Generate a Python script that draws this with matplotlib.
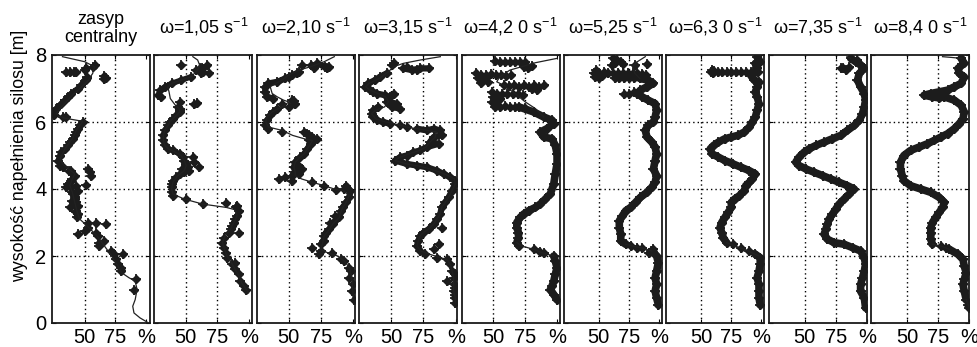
import numpy as np
import matplotlib
matplotlib.use("Agg")
import matplotlib.pyplot as plt

plt.rcParams['font.family'] = ['Liberation Sans', 'DejaVu Sans']
plt.rcParams['mathtext.fontset'] = 'custom'
plt.rcParams['mathtext.rm'] = 'Liberation Sans'
plt.rcParams['mathtext.it'] = 'Liberation Sans:italic'
plt.rcParams['mathtext.bf'] = 'Liberation Sans:bold'

NAN = (float('nan'), float('nan'))

titles = ["zasyp\ncentralny", "ω=1,05 s$^{-1}$", "ω=2,10 s$^{-1}$", "ω=3,15 s$^{-1}$",
          "ω=4,2 0 s$^{-1}$", "ω=5,25 s$^{-1}$", "ω=6,3 0 s$^{-1}$", "ω=7,35 s$^{-1}$",
          "ω=8,4 0 s$^{-1}$"]
y_ticks = [0, 2, 4, 6, 8]
x_ticks = [50, 75, 100]
x_ticklabels = ["50", "75", "%"]
ylabel = "wysokość napełnienia silosu [m]"
xlims = [(23.5, 103), (25.5, 102.5), (25, 101.5), (25.5, 101), (25, 102),
         (21, 102.5), (21, 102.5), (21, 100), (21, 100)]

# ---- panel 1 (h [m], value [%]) ----
L1 = [(7.95,32),(7.8,50),(7.65,58),(7.45,56.5),(7.2,52),(7.0,46),(6.8,40),(6.6,35),(6.4,30),(6.25,27),
      (6.12,33),(6.02,48.5),(5.8,44),(5.5,40),(5.2,34),(4.9,30),(4.75,32),(4.6,37),(4.45,42),(4.3,40),
      (4.1,38),(3.9,40),(3.6,42),(3.3,44),(3.1,46),(2.9,52),(2.6,60),(2.3,66),(2.0,72),(1.7,77),(1.5,80),
      (1.35,86),(1.25,91),(1.0,92.5),(0.7,91),(0.5,89),(0.3,90),(0.15,95),(0.02,101)]
B1 = [(7.25,51),(7.1,47),(7.0,44.5),(6.85,39),(6.75,36.5),(6.65,34),(6.55,31),(6.4,27),(6.3,25),NAN,
      (6.0,48.5),(5.9,46),(5.8,44.5),(5.7,43),(5.6,42),(5.5,40.5),(5.4,38),(5.3,36.5),(5.2,34),(5.1,31),
      (5.0,30),(4.85,28.5),(4.7,30),NAN,(4.3,40),(4.1,38),(3.9,40),(3.7,42),(3.5,44),(3.3,43),(3.15,44)]
D1 = [(7.7,58),(7.65,57),(7.6,51),(7.55,50),(7.5,35),(7.5,38),(7.48,41),(7.5,43),(7.38,66),(7.32,67.5),
      (7.28,66),(7.35,52),(7.3,52),(6.2,25),(6.15,32.5),(6.15,35),(4.65,32.5),(4.55,37),(4.55,39),(4.6,52.7),
      (4.5,54),(4.4,55.4),(4.4,42),(4.25,39),(4.15,36.5),(4.05,35),(4.05,39),(4.1,43),(4.12,51.3),(3.95,44.6),
      (3.85,40.6),(3.75,42),(3.65,40),(3.6,43),(3.5,44.6),(3.45,38),(3.35,43),(3.25,44.6),(3.0,52.7),(3.0,59.4),
      (2.95,67.5),(2.85,52.7),(2.75,50),(2.65,44.6),(2.7,59.4),(2.6,60.8),(2.45,66),(2.4,62),(2.3,62),(2.15,71.5),
      (2.05,74),(2.05,81),(1.9,75.5),(1.75,77),(1.65,79.6),(1.55,79.6),(1.3,91.7),(1.0,90.3)]

# ---- panel 2 ----
L2 = [(7.95,55.7),(7.85,59.5),(7.7,61),(7.55,59.5),(7.35,54.4),(7.25,46.6),(7.15,39),(7.05,36),(6.9,37),
      (6.7,38),(6.5,42),(6.4,45),(6.3,45.4),(6.2,42.8),(6.1,40),(6.0,37.6),(5.9,36.3),(5.75,33.7),(5.6,32.5),
      (5.45,32.5),(5.3,33.7),(5.2,36.3),(5.1,42),(5.0,46.5),(4.85,49),(4.7,50.5),(4.55,49),(4.4,44),(4.2,40),
      (4.0,39),(3.85,40),(3.7,49),(3.55,63.4),(3.45,82),(3.38,89),(3.2,90.5),(3.0,88),(2.8,85.3),(2.6,81),
      (2.4,79),(2.2,80.5),(2.0,82.5),(1.8,86),(1.6,89),(1.4,92),(1.2,94),(1.0,97.7),(0.9,99.5)]
B2 = [(7.35,54.4),(7.25,46.6),(7.15,39),(7.05,33.7),(6.95,30),(6.8,28.6),(6.75,31),NAN,(6.35,46),(6.3,45.4),
      (6.2,42.8),(6.1,40),(6.0,37.6),(5.9,36.3),(5.75,33.7),(5.6,32.5),(5.45,32.5),(5.3,33.7),(5.2,36.3),
      (5.15,40),(5.05,45.4),(4.95,48),(4.85,49),(4.75,50.5),NAN,(4.45,45.4),(4.35,42.8),(4.25,40),(4.15,39),
      (4.05,39),(3.9,39),(3.8,40),NAN,(3.45,90),(3.35,91.8),(3.2,90.5),(3.1,89),(3.0,88),(2.9,86.6),(2.8,85.3)]
D2 = [(7.7,46.6),(7.6,61),(7.62,63),(7.7,67),(7.45,68.6),(7.45,62),(7.5,64),(7.55,58),(6.6,45.4),(6.55,57),
      (6.56,59),(6.45,44),(6.4,46),(4.95,55.7),(4.8,57),(4.65,60.8),(4.55,53),(4.65,52),(4.5,49),(4.6,47),
      (3.7,50.5),(3.55,63.4),(3.58,81.5),(3.5,90.5),(2.7,91.8),(2.7,84),(2.55,80),(2.4,79),(2.25,80),(2.1,81.5),
      (1.95,82.8),(1.8,89),(1.75,86.6),(1.6,89),(1.45,91.8),(1.25,93),(1.1,95.7),(1.0,97.7)]

# ---- panel 3 ----
L3 = [(7.95,85.5),(7.8,77.6),(7.65,67),(7.55,58),(7.4,50),(7.25,44.7),(7.15,39.5),(7.05,35.5),(6.85,37),
      (6.75,41),(6.65,46),(6.6,50),(6.45,45),(6.4,42),(6.3,37),(6.15,33),(6.0,32),(5.85,34),(5.75,44.7),
      (5.6,53),(5.5,62),(5.45,68.4),(5.35,67),(5.2,64.5),(5.05,62),(4.95,59),(4.8,55),(4.65,54),(4.5,55),
      (4.4,55),(4.3,60),(4.2,68.4),(4.1,77.6),(3.98,87),(3.95,93),(3.8,97),(3.6,94.7),(3.45,92),(3.3,90.5),
      (3.15,89.5),(2.95,84.2),(2.8,81.6),(2.6,77.6),(2.4,76.5),(2.2,75),(2.1,80),(2.0,88),(1.85,93.4),
      (1.65,97.3),(1.45,98.6),(1.25,99.4),(0.95,100),(0.7,100)]
B3 = [(7.75,72),(7.65,78),(7.6,80),NAN,(7.45,56),(7.35,50),(7.3,47.4),(7.2,41),(7.15,34),(7.05,31.6),
      (6.9,31.6),(6.75,33),(6.7,38),NAN,(6.4,41),(6.3,38),(6.2,35.5),(6.05,33),(5.9,31.6),(5.8,34),NAN,
      (5.65,64),(5.55,68.4),(5.45,66),(5.35,67),(5.2,64.5),(5.05,62),(4.95,59),(4.8,55),(4.65,54),(4.5,55),
      (4.4,52.6),NAN,(4.1,94.7),(3.95,98),(3.75,97.3),(3.6,94.7),(3.45,92),(3.35,90.8),(3.15,89.5),
      (2.95,84.2),(2.8,81.6),(2.7,79),(2.6,77.6),(2.45,77.6),(2.35,75)]
D3 = [(7.7,60.5),(7.7,67),(7.6,69.7),(7.65,81.6),(7.5,58),(7.4,52.6),(6.65,52.6),(6.55,55),(6.55,44.7),
      (6.45,50),(6.62,54),(5.7,44.7),(5.7,62),(5.6,66),(5.5,70),(5.5,72),(4.7,58),(4.6,60),(4.45,58),
      (4.35,47.4),(4.3,42),(4.25,52.6),(4.2,68),(4.08,77.6),(3.96,86.8),(4.0,93.4),(3.2,86),(3.0,82),
      (2.25,68.4),(2.15,75),(2.05,73.7),(2.1,84),(1.9,91),(1.85,93.4),(1.65,97.3),(1.55,98.6),(1.35,97.3),
      (1.15,100),(0.95,99.4),(0.7,100.5)]

# ---- panel 4 ----
L4 = [(7.95,88),(7.85,72.5),(7.75,59.5),(7.65,52),(7.5,48),(7.3,41),(7.15,33),(7.05,30.5),(6.95,34),
      (6.85,40),(6.75,46),(6.6,48),(6.45,45),(6.35,38),(6.25,35),(6.1,38),(6.02,44),(5.95,52),(5.85,62),
      (5.8,70),(5.75,78),(5.7,85),(5.55,84),(5.4,80),(5.25,77),(5.15,72),(5.05,64),(4.95,57),(4.85,53),
      (4.75,62),(4.68,72),(4.6,80),(4.5,88),(4.4,94),(4.3,99),(4.15,99.5),(3.95,97),(3.75,94.4),(3.6,91.8),
      (3.45,89),(3.25,88),(3.1,85.3),(2.95,82.8),(2.8,79),(2.7,75),(2.6,72.5),(2.45,71),(2.3,70),(2.15,73),
      (2.05,80),(1.95,88),(1.9,93),(1.75,95.7),(1.55,97),(1.35,98.3),(1.15,98.3),(0.95,98.3),(0.75,99.5),
      (0.6,99.5)]
B4 = [(7.6,59.5),(7.55,66),(7.6,72.5),(7.6,79),NAN,(7.45,46.6),(7.35,41.5),(7.25,37.6),(7.15,32.5),
      (7.05,30),(6.95,33.7),(6.85,39),(6.8,45.4),(6.75,49),(6.85,52),NAN,(6.6,46.6),(6.55,54.4),(6.45,50.5),
      (6.4,57),NAN,(6.45,40),(6.35,36.3),(6.25,35),(6.15,36.3),(6.05,39),(6.0,44),(5.95,49),NAN,(5.8,70),
      (5.75,77.6),(5.8,82.8),(5.75,88),(5.6,89),(5.55,82.8),(5.4,80),(5.35,86.6),(5.25,77.6),(5.15,72.5),
      (5.1,67.3),(5.0,62),(4.95,57),(4.85,53),(4.75,62),(4.7,70),(4.65,77.6),(4.55,85.3),(4.45,90.5),
      (4.35,95.7),(4.25,99.5),(4.15,99.5),(3.95,97),(3.75,94.4),(3.6,91.8),(3.45,89),(3.25,88),(3.1,85.3),
      (2.95,82.8),(2.8,79),(2.7,75),(2.6,72.5),(2.45,71),(2.3,70),(2.15,72.5)]
D4 = [(7.75,52),(7.7,51),(7.65,62),(7.55,70),(6.9,36),(5.9,57),(5.85,62),(2.85,89),(2.35,86.6),(2.2,82.8),
      (2.05,76.3),(1.95,85.3),(1.9,93),(1.75,95.7),(1.55,97),(1.45,99),(1.35,98.3),(1.25,93),(1.15,98.3),
      (1.05,99),(0.95,98.3),(0.85,99),(0.75,99.5),(0.6,99.5)]

# ---- panel 5 ----
L5 = [(7.9,100),(7.77,83),(7.55,63),(7.35,55),(7.2,52.6),(7.1,58),(6.85,67),(6.6,75),(6.4,83),(6.15,89.5),
      NAN,(2.4,68.4),(2.3,72),(2.2,81.6),(2.1,88),(2.0,97.4)]
B5 = [(6.45,70),(6.3,81.6),(6.15,89.5),(6.05,96),(5.95,97.4),(5.8,92),(5.7,86.8),(5.55,89.5),(5.5,96),
      (5.3,98.6),(5.05,100),(4.75,100),(4.45,98.6),(4.15,97.4),(3.85,94.7),(3.7,90.8),(3.55,86.8),(3.45,83),
      (3.35,77.6),(3.25,73.7),(3.15,71),(3.0,68.4),(2.85,68.4),(2.7,69.7),(2.55,69.7),(2.4,68.4),(2.3,70),NAN,
      (2.0,97.4),(1.85,98.6),(1.65,100),(1.45,98.6),(1.25,97.4),(1.1,96),(1.0,94.7),(0.85,97.4),(0.7,100)]
D5 = [(7.82,51),(7.8,55),(7.8,59),(7.78,63),(7.8,67),(7.8,71),(7.78,75),(7.65,74),(7.6,77),(7.68,80),
      (7.45,36),(7.4,40),(7.4,44),(7.42,48),(7.4,52),(7.4,56),(7.38,60),(7.4,64),(7.3,38),(7.25,42),(7.2,46),
      (7.3,44),(7.15,40),(7.1,58),(7.08,62),(7.1,66),(7.05,70),(7.1,74),(7.05,78),(7.1,82),(7.05,86),(7.1,90),
      (7.0,80),(6.95,84),(6.9,49),(6.85,53),(6.85,57),(6.85,61),(6.85,65),(6.85,69),(6.8,73),(6.75,50),
      (6.65,51),(6.6,49),(6.55,52),(6.7,55),(6.45,51),(6.45,55),(6.47,59),(6.45,63),(6.45,67),(6.42,75),
      (2.22,81.6),(2.12,86.8),(2.1,90)]

# ---- panel 6 ----
L6 = [(7.95,88.6),(7.8,82),(7.65,78),(7.45,80),(7.3,84),NAN,(2.35,72.3),(2.28,80),(2.22,88),(2.15,94)]
B6 = [(7.3,84),(7.25,91),(7.15,95.4),(7.05,90),(6.95,84.5),(6.85,82),(6.75,86),(6.65,91),(6.55,96.8),
      (6.35,98),(6.15,96.8),(6.0,95.4),(5.9,91),(5.75,88.6),(5.55,90),(5.4,94),(5.25,96.8),(5.05,98),
      (4.85,96.8),(4.6,95.4),(4.4,98),(4.2,96.8),(4.05,94),(3.9,90),(3.75,84.5),(3.6,80.5),(3.45,76.4),
      (3.35,72.3),(3.2,69.6),(3.05,67),(2.85,67),(2.65,68.2),(2.45,68.2),(2.35,72.3),NAN,(2.15,94),(2.0,98),
      (1.8,99.5),(1.55,98),(1.35,96.8),(1.15,98),(0.95,96.8),(0.75,98),(0.55,99.5)]
D6 = [(7.9,62),(7.85,65),(7.8,68),(7.75,63),(7.7,61),(7.72,70),(7.7,80),(7.72,90),(7.45,46),(7.45,50),
      (7.48,54),(7.45,58),(7.45,62),(7.45,66),(7.45,70),(7.45,74),(7.45,78),(7.45,82),(7.42,86),(7.4,89),
      (7.35,47),(7.3,50),(7.55,48),(7.38,53),(7.3,63),(7.3,67),(7.3,71),(7.3,75),(7.3,79),(6.85,71),(6.85,75),
      (6.9,79),(2.3,76.4),(2.25,82),(2.25,86),(2.15,93),(2.2,95),(2.1,92)]

# ---- panel 7 ----
L7 = [(2.4,71),(2.3,78),(2.2,86),(2.1,92),(2.0,98)]
B7 = [(7.95,96.5),(7.8,99),(7.75,95),(7.6,96),(7.5,97),(7.4,91),(7.25,94),(7.2,98),(7.05,96.5),(6.9,95),
      (6.75,96.5),(6.55,98),(6.35,96.5),(6.15,95),(6.0,92.5),(5.85,90),(5.7,85.8),(5.6,80.4),(5.55,75),
      (5.5,69.6),(5.4,64.3),(5.3,60.2),(5.2,57.5),(5.05,58.9),(4.95,64.3),(4.85,69.6),(4.75,76.4),(4.65,83),
      (4.55,89.8),(4.45,95),(4.3,92.5),(4.2,90),(4.1,87),(3.95,85.8),(3.8,81.7),(3.7,77.7),(3.6,75),
      (3.45,75),(3.3,72.3),(3.15,69.6),(3.0,67),(2.85,65.6),(2.7,67),(2.55,68.3),(2.4,71),NAN,(2.05,95),
      (1.95,99),(1.75,99),(1.55,98),(1.35,96.5),(1.15,98),(0.95,98),(0.75,98),(0.55,99)]
D7 = [(7.5,58),(7.52,61),(7.48,64),(7.5,67),(7.5,71),(7.5,75),(7.5,79),(7.5,83),(7.5,87),(7.5,91),
      (7.45,60),(7.55,59),(2.35,76.4),(2.25,83),(2.15,89.8)]

# ---- panel 8 ----
L8 = [(7.95,84),(7.9,87)]
B8 = [(7.9,87),(7.8,91),(7.7,95),(7.6,98),(7.45,94),(7.25,92.5),(7.05,95),(6.85,98),(6.65,99),(6.45,98),
      (6.25,96.5),(6.05,94),(5.9,90),(5.75,84.4),(5.6,79),(5.5,72.3),(5.4,65.6),(5.3,59),(5.2,53.5),
      (5.1,49.5),(4.95,45.4),(4.8,42.7),(4.7,45.4),(4.6,50.8),(4.5,57.5),(4.4,64.3),(4.3,71),(4.2,77.7),
      (4.1,84.4),(4.0,89.8),(3.85,85.8),(3.7,81.7),(3.55,77.7),(3.4,75),(3.25,72.3),(3.1,69.6),(2.95,68.3),
      (2.8,67),(2.65,65.6),(2.5,68.3),(2.4,73.7),(2.35,81.7),(2.25,88.5),(2.15,95),(1.95,98),(1.75,99),
      (1.55,98),(1.35,96.5),(1.15,95),(0.95,95),(0.75,98),(0.45,99)]
D8 = [(7.6,79),(7.55,83),(7.62,81),(7.85,92),(7.65,86)]

# ---- panel 9 ----
L9 = [(7.95,78.5),(7.93,85),(7.9,93.5),NAN,(2.35,70.4),(2.3,77.2),(2.2,84),NAN,(0.7,97.6),(0.45,100)]
B9 = [(7.9,93.5),(7.75,96),(7.6,91),(7.45,92),(7.35,96),(7.15,93.5),(7.05,88),(6.95,82.6),(6.9,75.8),
      (6.85,69),(6.8,63.6),(6.75,70),(6.72,76),(6.75,80),(6.65,88),(6.5,93.5),(6.3,96),(6.1,95),(5.95,92),
      (5.8,88),(5.65,82.6),(5.55,77.2),(5.45,71.8),(5.35,66.3),(5.25,59.5),(5.15,52.7),(5.0,47.3),(4.8,44.6),
      (4.6,44.6),(4.4,46),(4.25,47.3),(4.1,52.7),(4.0,60.9),(3.9,69),(3.75,75.8),(3.6,80),(3.45,78.6),
      (3.3,75.8),(3.15,73),(3.0,70.4),(2.85,69),(2.7,69),(2.5,69),(2.35,70.4),NAN,(2.2,84),(2.05,91),
      (1.9,95),(1.7,96),(1.5,97.6),(1.3,96),(1.15,95),(0.95,96),(0.7,97.6)]
D9 = [(2.3,77.2),(2.25,81),(0.55,99),(0.45,100)]

lines = [L1, L2, L3, L4, L5, L6, L7, L8, L9]
bands = [B1, B2, B3, B4, B5, B6, B7, B8, B9]
dots = [D1, D2, D3, D4, D5, D6, D7, D8, D9]
band_w = [4, 4, 4.5, 4.5, 5.5, 5.5, 5.5, 5.5, 5.5]

W, H = 977, 347
fig = plt.figure(figsize=(W / 100, H / 100), dpi=100)
mc = '#1c1c1c'


def xy(pairs):
    a = np.array(pairs, dtype=float)
    return a[:, 1], a[:, 0]


for k in range(9):
    left = 52 + k * 102.4
    ax = fig.add_axes([left / W, 1 - 323 / H, 98 / W, 268 / H])
    ax.set_xlim(*xlims[k])
    ax.set_ylim(0, 8)
    for gx in x_ticks[:2]:
        ax.axvline(gx, color='k', lw=1.0, ls=(0, (1, 2.2)), zorder=1)
    for gy in y_ticks[1:-1]:
        ax.axhline(gy, color='k', lw=1.0, ls=(0, (1, 2.2)), zorder=1)

    bx, bh = xy(bands[k])
    ax.plot(bx, bh, color=mc, lw=band_w[k], solid_capstyle='round',
            solid_joinstyle='round', zorder=3)
    for px, ph in (xy(bands[k]), xy(dots[k])):
        ax.plot(px, ph, ls='none', marker='D', ms=4.0, color=mc, zorder=3)
        ax.plot(px, ph, ls='none', marker='+', ms=7.0, mew=1.3, color=mc, zorder=3)
    lx, lh = xy(lines[k])
    ax.plot(lx, lh, color='#222222', lw=0.9, zorder=4)

    ax.set_xticks(x_ticks)
    ax.set_xticklabels(x_ticklabels, fontsize=14.5)
    ax.set_yticks(y_ticks)
    if k == 0:
        ax.set_yticklabels([str(v) for v in y_ticks], fontsize=14.5)
    else:
        ax.set_yticklabels([])
    ax.tick_params(axis='both', direction='in', length=3, width=0.8,
                   top=True, right=True)
    ax.tick_params(axis='x', pad=3.5)
    ax.tick_params(axis='y', pad=4)
    for s in ax.spines.values():
        s.set_linewidth(1.3)
        s.set_color('#1a1a1a')

    cx = (left + 49) / W
    if k == 0:
        fig.text(cx, 1 - 19 / H, "zasyp", ha='center', va='center', fontsize=13)
        fig.text(cx, 1 - 38 / H, "centralny", ha='center', va='center', fontsize=13)
    else:
        fig.text(cx, 1 - 27 / H, titles[k], ha='center', va='center', fontsize=13)

fig.text(20 / W, 1 - 156 / H, ylabel, rotation=90, ha='center', va='center', fontsize=12.8)

fig.savefig("out.png", dpi=100)
